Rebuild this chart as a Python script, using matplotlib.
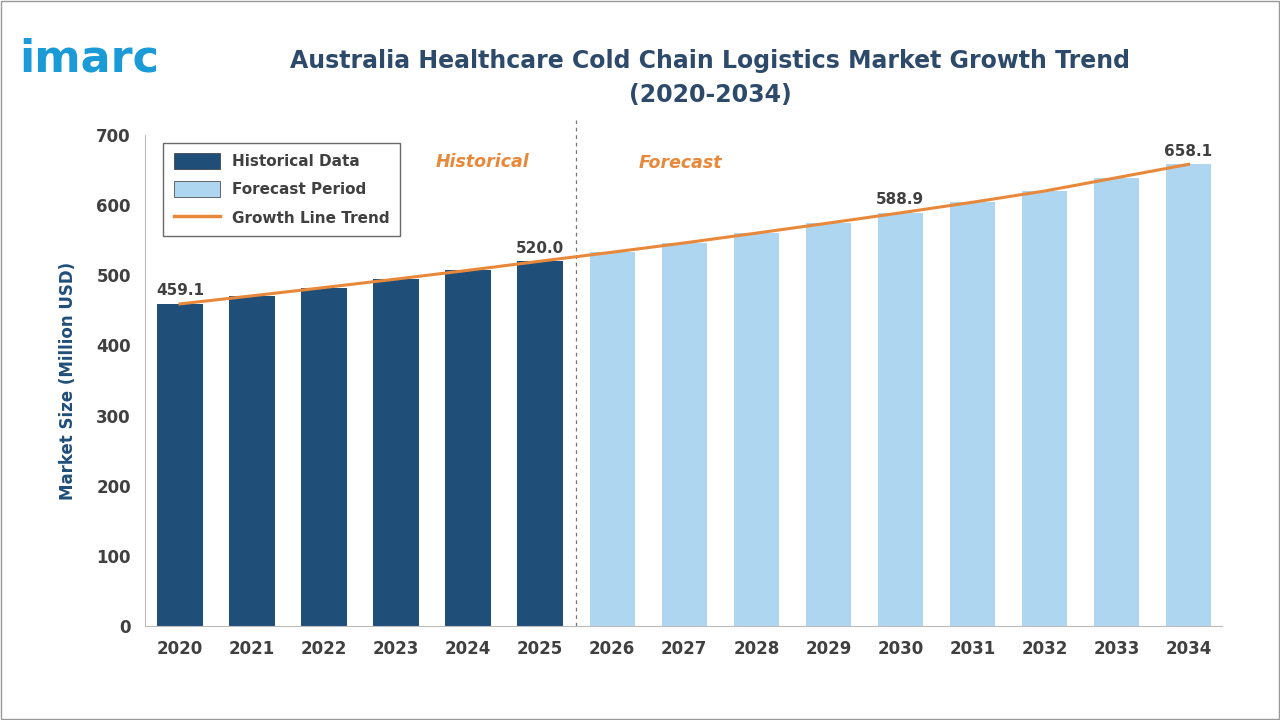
import matplotlib.pyplot as plt
from matplotlib.patches import Patch
from matplotlib.lines import Line2D

years = ["2020", "2021", "2022", "2023", "2024", "2025", "2026", "2027",
         "2028", "2029", "2030", "2031", "2032", "2033", "2034"]
values = [459.1, 470.6, 482.4, 494.5, 507.0, 520.0, 532.8, 546.0,
          560.0, 574.3, 588.9, 604.0, 620.0, 639.0, 658.1]
n_hist = 6
labelled = {0: "459.1", 5: "520.0", 10: "588.9", 14: "658.1"}

dark = "#1f4e79"
light = "#aed6f1"
orange = "#e8883a"
text_col = "#404040"

fig = plt.figure(figsize=(12.8, 7.2), dpi=100)
ax = fig.add_axes([0.113, 0.1306, 0.842, 0.682])

x = list(range(len(years)))
colors = [dark if i < n_hist else light for i in x]
ax.bar(x, values, width=0.63, color=colors, zorder=2)
ax.plot(x, values, color=orange, lw=2.2, zorder=3)

for i, t in labelled.items():
    ax.text(i, values[i] + 8, t, ha="center", va="bottom",
            fontsize=11, fontweight="bold", color=text_col, zorder=4)

ax.axvline(5.5, ymin=0, ymax=1.03, color="#777777", lw=0.9, ls=(0, (3, 3)), clip_on=False)
ax.text(4.2, 662, "Historical", color=orange, fontsize=12.5, fontstyle="italic",
        fontweight="bold", ha="center", va="center")
ax.text(6.95, 660, "Forecast", color=orange, fontsize=12.5, fontstyle="italic",
        fontweight="bold", ha="center", va="center")

ax.set_xlim(-0.49, 14.47)
ax.set_ylim(0, 700)
ax.set_yticks(range(0, 701, 100))
ax.set_xticks(x)
ax.set_xticklabels(years)
ax.tick_params(length=0, labelsize=12, colors=text_col, pad=10)
for lab in ax.get_xticklabels() + ax.get_yticklabels():
    lab.set_fontweight("bold")
for s in ["top", "right"]:
    ax.spines[s].set_visible(False)
for s in ["left", "bottom"]:
    ax.spines[s].set_color("#bbbbbb")
ax.set_ylabel("Market Size (Million USD)", fontsize=12, fontweight="bold",
              color=dark, labelpad=14)

handles = [Patch(facecolor=dark, edgecolor="#333333", lw=0.5),
           Patch(facecolor=light, edgecolor="#333333", lw=0.5),
           Line2D([0], [0], color=orange, lw=2.5)]
leg = ax.legend(handles, ["Historical Data", "Forecast Period", "Growth Line Trend"],
                loc="upper left", bbox_to_anchor=(0.01, 1.0), fontsize=11,
                frameon=True, fancybox=False, edgecolor="#444444",
                handlelength=3.0, handleheight=1.2, borderpad=0.7, labelspacing=0.8)
for t in leg.get_texts():
    t.set_color(text_col)
    t.set_fontweight("bold")

fig.text(0.555, 0.892, "Australia Healthcare Cold Chain Logistics Market Growth Trend\n(2020-2034)",
         ha="center", va="center", fontsize=17, fontweight="bold", color="#2e4a6b",
         linespacing=1.5)
fig.text(0.015, 0.918, "imarc", fontsize=32, fontweight="bold", color="#1a9ad6",
         ha="left", va="center")

fig.patches.append(plt.Rectangle((0.001, 0.001), 0.998, 0.998, transform=fig.transFigure,
                                 fill=False, edgecolor="#999999", lw=1))

fig.savefig("out.png", dpi=100)
